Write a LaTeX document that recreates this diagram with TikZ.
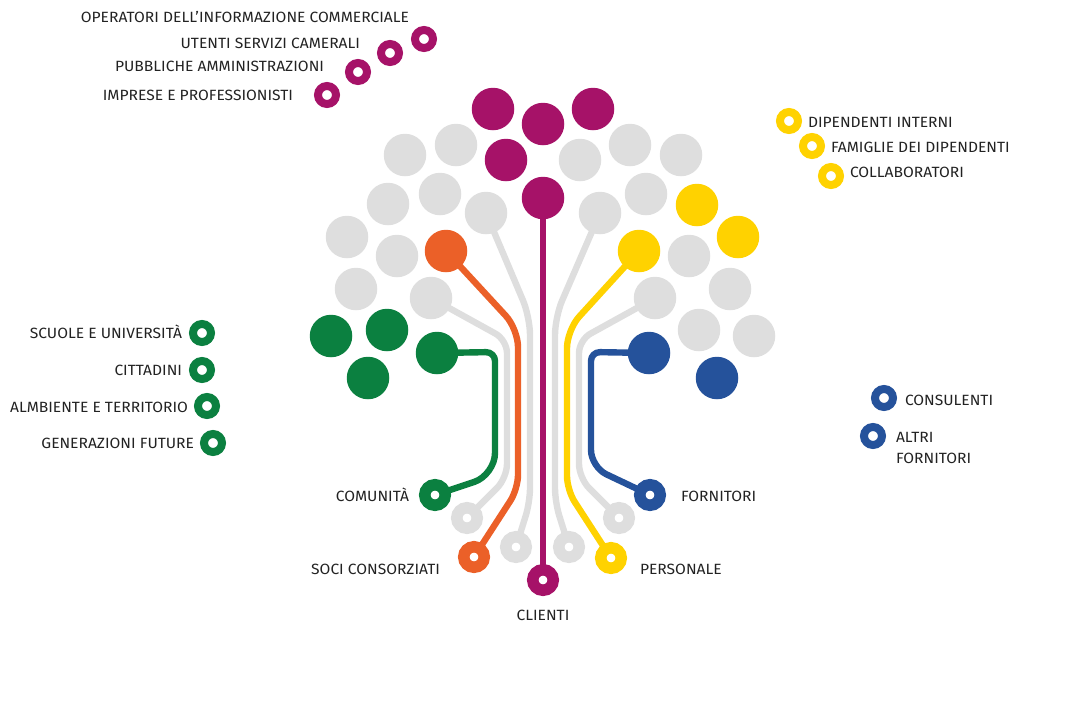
\documentclass[tikz,border=0pt]{standalone}
\usepackage{fontspec}
\setmainfont{Fira Sans}[FakeStretch=1.05]
\usetikzlibrary{backgrounds}
\definecolor{cpur}{HTML}{A61268}
\definecolor{cora}{HTML}{EB6028}
\definecolor{cyel}{HTML}{FFD200}
\definecolor{cgre}{HTML}{0B8040}
\definecolor{cblu}{HTML}{25529B}
\definecolor{cgra}{HTML}{DEDEDE}
\definecolor{ctxt}{HTML}{222222}
\tikzset{
  x=1pt,y=-1pt,
  bigdot/.style={circle,fill=#1,draw=none,minimum size=42.5pt,inner sep=0pt,outer sep=0pt},
  term/.style={circle,fill=white,draw=#1,line width=11.5pt,minimum size=20.5pt,inner sep=0pt,outer sep=0pt},
  legring/.style={circle,fill=white,draw=#1,line width=8pt,minimum size=18pt,inner sep=0pt,outer sep=0pt},
  wire/.style={draw=#1,line width=6.4pt,line join=round},
  lab/.style={font=\fontsize{14.85}{21}\selectfont,text=ctxt,inner sep=0pt,outer sep=0pt},
  labr/.style={lab,anchor=base east},
  labl/.style={lab,anchor=base west},
}
\begin{document}
\begin{tikzpicture}
\useasboundingbox (0,0) rectangle (1079,710);
% purple
\node[bigdot=cpur] (p1) at (493,109) {};
\node[bigdot=cpur] (p2) at (543,124) {};
\node[bigdot=cpur] (p3) at (593,109) {};
\node[bigdot=cpur] (p4) at (506,160) {};
\node[bigdot=cpur] (p5) at (543,198) {};
% gray
\foreach \n/\x/\y in {g1/405/155,g2/456/145,g3/388/204,g4/440/194,g5/486/213,g6/347/237,g7/397/256,g8/356/289,g9/431/298,g10/580/160,g11/630/145,g12/681/155,g13/646/194,g14/600/213,g15/689/256,g16/730/289,g17/655/298,g18/699/330,g19/754/336}
  {\node[bigdot=cgra] (\n) at (\x,\y) {};}
% yellow
\node[bigdot=cyel] (y1) at (697,205) {};
\node[bigdot=cyel] (y2) at (738,237) {};
\node[bigdot=cyel] (y3) at (639,251) {};
% orange
\node[bigdot=cora] (o1) at (446,251) {};
% green
\node[bigdot=cgre] (v1) at (331,336) {};
\node[bigdot=cgre] (v2) at (387,330) {};
\node[bigdot=cgre] (v3) at (368,378) {};
\node[bigdot=cgre] (v4) at (437,353) {};
% blue
\node[bigdot=cblu] (b1) at (649,353) {};
\node[bigdot=cblu] (b2) at (717,378) {};
% terminals
\node[term=cgre] (tcom) at (435,495) {};
\node[term=cgra] (tg1) at (467,518) {};
\node[term=cora] (tsoc) at (474,557) {};
\node[term=cgra] (tg2) at (516,547) {};
\node[term=cpur] (tcli) at (543,580) {};
\node[term=cgra] (tg3) at (569,547) {};
\node[term=cyel] (tper) at (611,558) {};
\node[term=cgra] (tg4) at (619,518) {};
\node[term=cblu] (tfor) at (650,495) {};
% connectors
\begin{pgfonlayer}{background}
\path[wire=cgra] (g5.center) [rounded corners=18pt] -- (530,317) [rounded corners=14pt] -- (530,502) -- (tg2.center);
\path[wire=cgra] (g9.center) [rounded corners=13pt] -- (507,340) [rounded corners=14pt] -- (507,478) -- (tg1.center);
\path[wire=cgra] (g14.center) [rounded corners=18pt] -- (555,317) [rounded corners=14pt] -- (555,502) -- (tg3.center);
\path[wire=cgra] (g17.center) [rounded corners=13pt] -- (579,340) [rounded corners=14pt] -- (579,478) -- (tg4.center);
\path[wire=cora] (o1.center) [rounded corners=18pt] -- (518,329) [rounded corners=14pt] -- (518,489) -- (tsoc.center);
\path[wire=cyel] (y3.center) [rounded corners=18pt] -- (567,330) [rounded corners=14pt] -- (567,490) -- (tper.center);
\path[wire=cgre] (v4.center) [rounded corners=9pt] -- (495,352) [rounded corners=22pt] -- (495,475) -- (tcom.center);
\path[wire=cblu] (b1.center) [rounded corners=9pt] -- (591,352) [rounded corners=17pt] -- (591,467) -- (tfor.center);
\path[wire=cpur] (p5.center) -- (tcli.center);
\end{pgfonlayer}
% legend rings
\foreach \n/\x/\y in {lp1/327/95,lp2/358/72,lp3/390/53,lp4/424/39}
  {\node[legring=cpur] (\n) at (\x,\y) {};}
\foreach \n/\x/\y in {ly1/789/121,ly2/812/146,ly3/831/176}
  {\node[legring=cyel] (\n) at (\x,\y) {};}
\foreach \n/\x/\y in {lg1/202/333,lg2/202/370,lg3/207/406,lg4/213/443}
  {\node[legring=cgre] (\n) at (\x,\y) {};}
\foreach \n/\x/\y in {lb1/884/398,lb2/873/436}
  {\node[legring=cblu] (\n) at (\x,\y) {};}
% labels
\node[labr] (t1) at (409,22) {OPERATORI DELL’INFORMAZIONE COMMERCIALE};
\node[labr] (t2) at (360,48) {UTENTI SERVIZI CAMERALI};
\node[labr] (t3) at (324,71) {PUBBLICHE AMMINISTRAZIONI};
\node[labr] (t4) at (293,100) {IMPRESE E PROFESSIONISTI};
\node[labl] (t5) at (808,127) {DIPENDENTI INTERNI};
\node[labl] (t6) at (831,152) {FAMIGLIE DEI DIPENDENTI};
\node[labl] (t7) at (850,177) {COLLABORATORI};
\node[labr] (t8) at (182,338) {SCUOLE E UNIVERSITÀ};
\node[labr] (t9) at (182,375) {CITTADINI};
\node[labr] (t10) at (188,412) {ALMBIENTE E TERRITORIO};
\node[labr] (t11) at (194,448) {GENERAZIONI FUTURE};
\node[labl] (t12) at (905,405) {CONSULENTI};
\node[labl] (t13) at (896,442) {ALTRI};
\node[labl] (t14) at (896,463) {FORNITORI};
\node[labr] (t15) at (409,501) {COMUNITÀ};
\node[labr] (t16) at (440,574) {SOCI CONSORZIATI};
\node[lab,anchor=base] (t17) at (543,620) {CLIENTI};
\node[labl] (t18) at (681,501) {FORNITORI};
\node[labl] (t19) at (640,574) {PERSONALE};
\end{tikzpicture}
\end{document}
